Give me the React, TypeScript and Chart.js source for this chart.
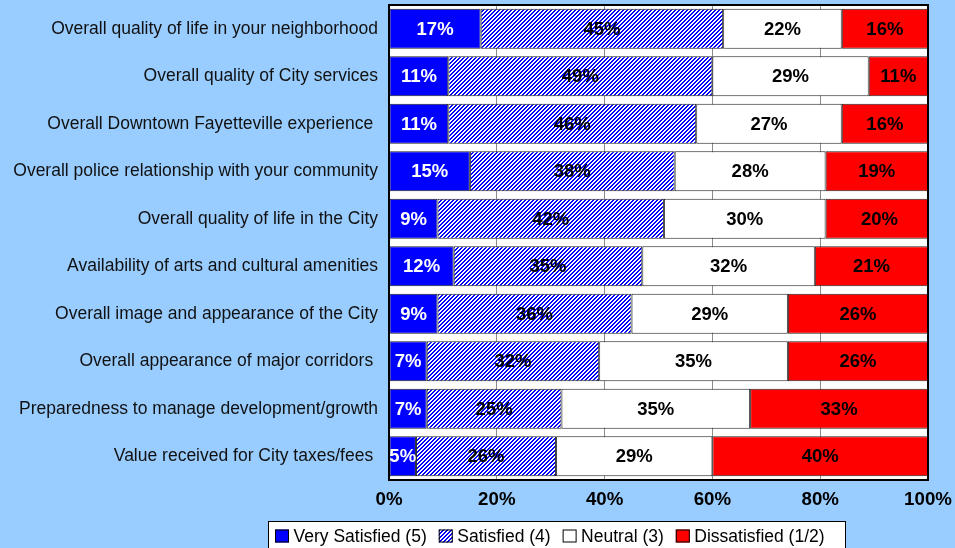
import React, { useEffect, useRef } from "react";
import { Chart, registerables } from "chart.js";

Chart.register(...registerables);

const categories = [
  "Overall quality of life in your neighborhood",
  "Overall quality of City services",
  "Overall Downtown Fayetteville experience ",
  "Overall police relationship with your community",
  "Overall quality of life in the City",
  "Availability of arts and cultural amenities",
  "Overall image and appearance of the City",
  "Overall appearance of major corridors ",
  "Preparedness to manage development/growth",
  "Value received for City taxes/fees ",
];
const verySatisfied = [17, 11, 11, 15, 9, 12, 9, 7, 7, 5];
const satisfied = [45, 49, 46, 38, 42, 35, 36, 32, 25, 26];
const neutral = [22, 29, 27, 28, 30, 32, 29, 35, 35, 29];
const dissatisfied = [16, 11, 16, 19, 20, 21, 26, 26, 33, 40];
const seriesNames = ["Very Satisfied (5)", "Satisfied (4)", "Neutral (3)", "Dissatisfied (1/2)"];
const xMin = 0;
const xMax = 100;
const xStep = 20;

const FONT = "'Liberation Sans', Arial, Helvetica, sans-serif";
const BG = "#99CCFF";

function makeHatch(): CanvasPattern | string {
  const c = document.createElement("canvas");
  c.width = 4;
  c.height = 4;
  const g = c.getContext("2d");
  if (!g) return "#8080ff";
  g.fillStyle = "#ffffff";
  g.fillRect(0, 0, 4, 4);
  g.fillStyle = "#0000ff";
  for (let y = 0; y < 4; y++) {
    for (let x = 0; x < 4; x++) {
      if ((x + y) % 4 < 2) g.fillRect(x, y, 1, 1);
    }
  }
  const p = g.createPattern(c, "repeat");
  return p || "#8080ff";
}

function zeroPad(scale: any) {
  scale.paddingTop = 0;
  scale.paddingBottom = 0;
  scale.paddingLeft = 0;
  scale.paddingRight = 0;
}

export default function App() {
  const ref = useRef<HTMLCanvasElement | null>(null);

  useEffect(() => {
    document.body.style.margin = "0";
    document.body.style.background = BG;
    const canvas = ref.current;
    if (!canvas) return;
    const hatch = makeHatch();
    const fills: any[] = ["#0000ff", hatch, "#ffffff", "#ff0000"];
    const textColors = ["#ffffff", "#000000", "#000000", "#000000"];
    const series = [verySatisfied, satisfied, neutral, dissatisfied];

    const bgPlugin = {
      id: "bgPlugin",
      beforeDraw(chart: any) {
        const { ctx, chartArea } = chart;
        ctx.save();
        ctx.fillStyle = BG;
        ctx.fillRect(0, 0, chart.width, chart.height);
        ctx.fillStyle = "#ffffff";
        ctx.fillRect(chartArea.left, chartArea.top, chartArea.right - chartArea.left, chartArea.bottom - chartArea.top);
        ctx.restore();
      },
    };

    const labelPlugin = {
      id: "labelPlugin",
      afterDatasetsDraw(chart: any) {
        const { ctx } = chart;
        ctx.save();
        ctx.font = `bold 18.5px ${FONT}`;
        ctx.textAlign = "center";
        ctx.textBaseline = "middle";
        chart.data.datasets.forEach((ds: any, i: number) => {
          const meta = chart.getDatasetMeta(i);
          meta.data.forEach((bar: any, j: number) => {
            const v = ds.data[j];
            const cx = (bar.x + bar.base) / 2;
            ctx.fillStyle = textColors[i];
            ctx.fillText(v + "%", cx, bar.y + 1);
          });
        });
        ctx.restore();
      },
    };

    const framePlugin = {
      id: "framePlugin",
      afterDraw(chart: any) {
        const { ctx, chartArea } = chart;
        ctx.save();
        ctx.strokeStyle = "#000000";
        ctx.lineWidth = 2;
        ctx.strokeRect(chartArea.left, chartArea.top, chartArea.right - chartArea.left, chartArea.bottom - chartArea.top);

        // legend box
        const lx = 268.5;
        const ly = 521.5;
        const lw = 577;
        const lh = 40;
        ctx.fillStyle = "#ffffff";
        ctx.fillRect(lx, ly, lw, lh);
        ctx.lineWidth = 1;
        ctx.strokeStyle = "#000000";
        ctx.strokeRect(lx, ly, lw, lh);
        ctx.font = `17.5px ${FONT}`;
        ctx.textBaseline = "middle";
        ctx.textAlign = "left";
        let x = 275;
        const cy = 536;
        chart.data.datasets.forEach((ds: any) => {
          ctx.fillStyle = ds.backgroundColor;
          ctx.fillRect(x, cy - 6.5, 14, 13);
          ctx.lineWidth = 1;
          ctx.strokeStyle = "#000000";
          ctx.strokeRect(x + 0.5, cy - 6, 13, 12);
          ctx.fillStyle = "#000000";
          const tx = x + 18.5;
          ctx.fillText(ds.label, tx, cy + 1);
          x = tx + ctx.measureText(ds.label).width + 12;
        });
        ctx.restore();
      },
    };

    const chart = new Chart(canvas, {
      type: "bar",
      data: {
        labels: categories,
        datasets: series.map((d, i) => ({
          label: seriesNames[i],
          data: d,
          backgroundColor: fills[i],
          borderColor: "#222222",
          borderWidth: 1,
          borderSkipped: false,
          categoryPercentage: 1,
          barPercentage: 0.84,
        })),
      },
      options: {
        indexAxis: "y",
        animation: false,
        responsive: true,
        maintainAspectRatio: false,
        layout: { padding: { top: 5, right: 27, bottom: 0, left: 0 } },
        plugins: {
          legend: { display: false },
          tooltip: { enabled: false },
          title: { display: false },
        },
        scales: {
          x: {
            stacked: true,
            min: xMin,
            max: xMax,
            ticks: {
              stepSize: xStep,
              callback: (v: any) => v + "%",
              color: "#000000",
              font: { family: FONT, size: 18.7, weight: "bold" },
              padding: 9,
              maxRotation: 0,
            },
            grid: { color: "#8c8c8c", lineWidth: 1, drawTicks: false },
            border: { display: false },
            afterFit: (scale: any) => {
              scale.height = 68;
              zeroPad(scale);
            },
          },
          y: {
            stacked: true,
            ticks: {
              color: "#111111",
              font: { family: FONT, size: 17.5 },
              padding: 11,
              autoSkip: false,
            },
            grid: { display: false, drawTicks: false },
            border: { display: false },
            afterFit: (scale: any) => {
              scale.width = 389;
              zeroPad(scale);
            },
          },
        },
      },
      plugins: [bgPlugin, labelPlugin, framePlugin],
    });
    return () => chart.destroy();
  }, []);

  return (
    <div style={{ width: 955, height: 548, position: "relative" }}>
      <canvas ref={ref} />
    </div>
  );
}
